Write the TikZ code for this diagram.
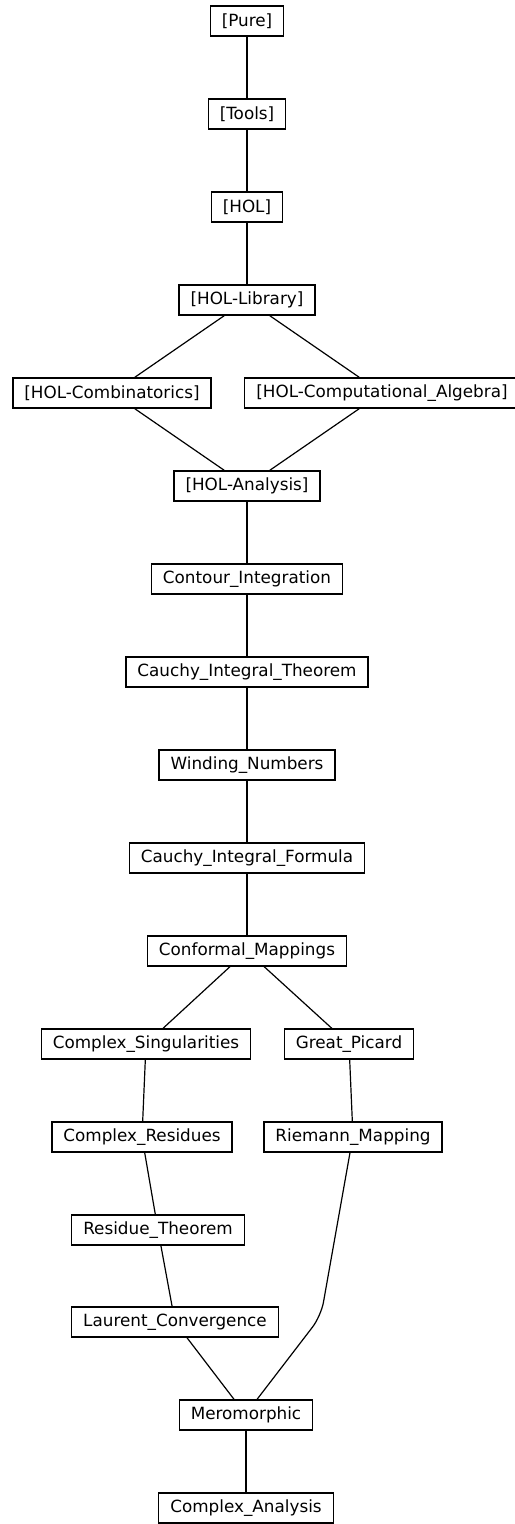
\documentclass[tikz,border=0pt]{standalone}
\usepackage{fontspec}
\setmainfont{DejaVu Sans}
\usetikzlibrary{calc}
\begin{document}
\begin{tikzpicture}
[thybox/.style={draw,line width=0.6pt,minimum height=15pt,inner xsep=5.75pt,
  inner ysep=0pt,font=\fontsize{8.4}{10}\selectfont},
 edge/.style={line width=0.6pt},x=0.5pt,y=-0.5pt]
\useasboundingbox (0,0) rectangle (514,1524);
%% the main chain of sessions and theories
\foreach \name/\x/\y/\txt in {pure/247/21/[Pure], tools/247/114/[Tools], hol/247/207/[HOL],
  lib/247/300/[HOL-Library], comb/112/393/[HOL-Combinatorics],
  calg/382/393/[HOL-Computational\_Algebra], ana/247/486/[HOL-Analysis],
  contour/247/579/Contour\_Integration, cit/247/672/Cauchy\_Integral\_Theorem,
  wind/247/765/Winding\_Numbers, cif/247/858/Cauchy\_Integral\_Formula,
  conf/247/951/Conformal\_Mappings, sing/146/1044/Complex\_Singularities,
  picard/349/1044/Great\_Picard, resid/142/1137/Complex\_Residues,
  riem/353/1137/Riemann\_Mapping, rthm/158/1230/Residue\_Theorem,
  laurent/175/1322/Laurent\_Convergence, mero/246/1415/Meromorphic,
  canal/246/1508/Complex\_Analysis}
{
  \node[thybox] (\name) at (\x,\y) {\txt};
}
%% dependencies
\foreach \a/\b in {pure/tools, tools/hol, hol/lib, lib/comb, lib/calg, comb/ana, calg/ana,
  ana/contour, contour/cit, cit/wind, wind/cif, cif/conf, conf/sing, conf/picard,
  sing/resid, picard/riem, resid/rthm, rthm/laurent, laurent/mero, mero/canal}
{
  \draw[edge] (\a) -- (\b);
}
\draw[edge,rounded corners=7pt] ($(riem.south)+(-3,0)$) -- (321,1316) -- ($(mero.north)+(11,0)$);
\end{tikzpicture}
\end{document}
